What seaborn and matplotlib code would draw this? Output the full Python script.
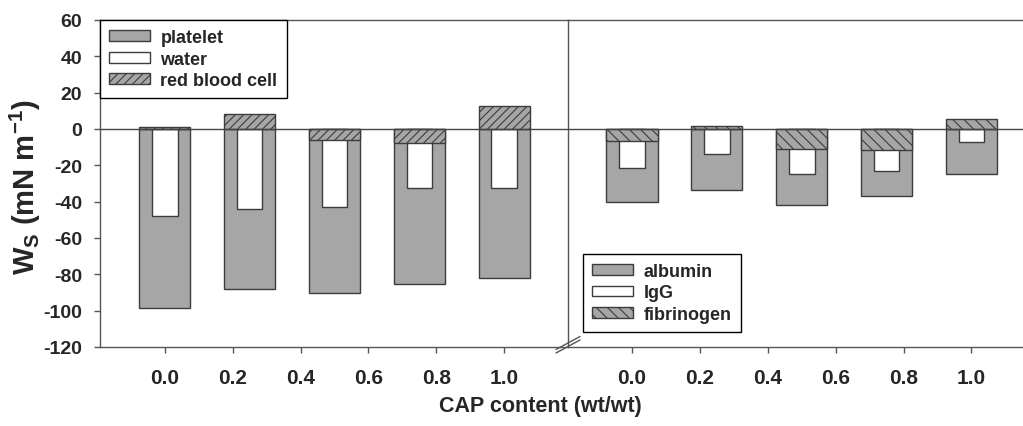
import matplotlib
matplotlib.use("Agg")
import matplotlib.pyplot as plt
from matplotlib.lines import Line2D
import seaborn as sns

# CAP content of each film and the axis ticks
cap_content = [0.0, 0.25, 0.5, 0.75, 1.0]
tick_values = [0.0, 0.2, 0.4, 0.6, 0.8, 1.0]
tick_labels = ["0.0", "0.2", "0.4", "0.6", "0.8", "1.0"]
y_ticks = [-120, -100, -80, -60, -40, -20, 0, 20, 40, 60]

# left panel: blood components (mN m-1)
platelet = [-98.5, -88.3, -90.5, -85.2, -82.0]
water = [-48.0, -44.3, -42.8, -32.3, -32.3]
red_blood_cell = [1.2, 8.4, -6.2, -7.6, 12.6]

# right panel: plasma proteins (mN m-1)
albumin = [-40.0, -33.7, -42.0, -37.0, -25.0]
igg = [-21.4, -13.5, -25.0, -23.2, -7.3]
fibrinogen = [-6.8, 1.6, -10.9, -11.7, 5.5]

sns.set_style("ticks")
plt.rcParams.update({
    "mathtext.fontset": "custom",
    "mathtext.rm": "Liberation Sans:bold",
    "mathtext.bf": "Liberation Sans:bold",
    "mathtext.default": "bf",
    "axes.edgecolor": "#555555",
    "axes.linewidth": 1.0,
    "hatch.linewidth": 0.8,
})
plt.rcParams["font.family"] = ["Liberation Sans", "DejaVu Sans"]

GRAY = "#a6a6a6"
EDGE = "#3c3c3c"
W, H = 1023, 427

fig = plt.figure(figsize=(10.23, 4.27), dpi=100)
ax_l = fig.add_axes([100 / W, 1 - 348 / H, 468 / W, 327 / H])
ax_r = fig.add_axes([568 / W, 1 - 348 / H, 455 / W, 327 / H])


def draw_panel(ax, outer, inner, top, hatch):
    common = dict(native_scale=True, errorbar=None, saturation=1,
                  edgecolor=EDGE, linewidth=1.0, ax=ax)
    sns.barplot(x=cap_content, y=outer, width=0.604, color=GRAY, **common)
    sns.barplot(x=cap_content, y=inner, width=0.302, color="white", **common)
    sns.barplot(x=cap_content, y=top, width=0.604, color=GRAY, hatch=hatch, **common)
    ax.axhline(0, color="#444444", lw=1.0, zorder=3)
    ax.set_ylim(-120, 60)
    ax.set_xticks(tick_values)
    ax.set_xticklabels(tick_labels, fontsize=15, fontweight="bold")
    ax.tick_params(axis="x", length=4, width=1, color="#555555", pad=11)
    ax.set_xlabel("")
    ax.set_ylabel("")


draw_panel(ax_l, platelet, water, red_blood_cell, "////")
draw_panel(ax_r, albumin, igg, fibrinogen, "\\\\\\")

ax_l.set_xlim(-0.1905, 1.1876)
ax_r.set_xlim(-0.1885, 1.152)

ax_l.set_yticks(y_ticks)
ax_l.set_yticklabels([str(v) for v in y_ticks], fontsize=14, fontweight="bold")
ax_l.tick_params(axis="y", length=4, width=1, color="#555555", pad=9)
ax_l.spines["right"].set_visible(False)

ax_r.set_yticks([])
ax_r.spines["right"].set_visible(False)

leg_kw = dict(prop={"weight": "bold", "size": 13}, frameon=True, fancybox=False,
              edgecolor="black", framealpha=1, handlelength=2.25, handleheight=0.55,
              handletextpad=0.6, labelspacing=0.25, borderpad=0.5, borderaxespad=0)
leg_l = ax_l.legend(ax_l.containers[:3], ["platelet", "water", "red blood cell"],
                    loc="upper left", bbox_to_anchor=(0, 1), **leg_kw)
leg_r = ax_r.legend(ax_r.containers[:3], ["albumin", "IgG", "fibrinogen"],
                    loc="lower left", bbox_to_anchor=(0.033, 0.046), **leg_kw)
for leg in (leg_l, leg_r):
    leg.get_frame().set_linewidth(1.0)
    leg.set_zorder(5)

# axis break marks on the x axis
for dy in (0, 3.5):
    fig.add_artist(Line2D([556 / W, 580 / W],
                          [1 - (354 - dy) / H, 1 - (341 - dy) / H],
                          color="#555555", lw=1.0))

fig.text(540 / W, 1 - 407 / H, "CAP content (wt/wt)", ha="center", va="center",
         fontsize=15.5, fontweight="bold")
fig.text(25 / W, 1 - 187 / H, r"W$_{S}$ (mN m$^{-1}$)", ha="center", va="center",
         rotation=90, fontsize=21, fontweight="bold")

fig.savefig("out.png", dpi=100)
